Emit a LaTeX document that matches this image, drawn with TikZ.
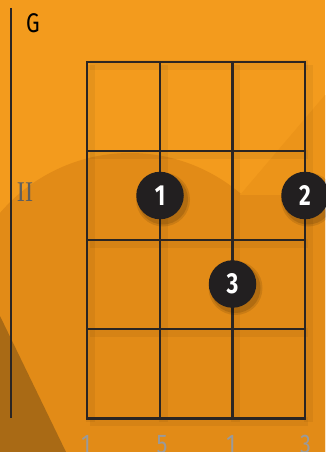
\documentclass[tikz,border=0pt]{standalone}
\usepackage{fontspec}
\setmainfont{Fira Sans}
\newfontfamily\numfont{Fira Sans}
\newfontfamily\serifnum{Liberation Serif}
\usetikzlibrary{calc}
\definecolor{bglight}{HTML}{F39B1D}
\definecolor{bgmid}{HTML}{EC9419}
\definecolor{bgdark}{HTML}{E28B17}
\definecolor{bgdeep}{HTML}{A96A15}
\definecolor{gridcol}{HTML}{2A2523}
\definecolor{dotcol}{HTML}{221F20}
\definecolor{lblgray}{HTML}{9A9A9A}
\definecolor{romgray}{HTML}{5E5E5E}
\tikzset{
  gridline/.style={draw=gridcol, line width=2.6pt, line cap=rect},
  gridshadow/.style={draw=black, line width=9pt, opacity=0.05},
  fingerdot/.style={circle, fill=dotcol, minimum size=47.5pt, inner sep=0pt,
     text=white, font=\numfont\bfseries\fontsize{29}{29}\selectfont},
  dotshadow/.style={circle, fill=black, inner sep=0pt},
  strlabel/.style={text=lblgray, font=\numfont\fontsize{27}{27}\selectfont, anchor=north, inner sep=0pt},
}
\begin{document}
\begin{tikzpicture}[x=1pt,y=-1pt]
\useasboundingbox (0,0) rectangle (325,452);
% background
\fill[bglight] (0,0) rectangle (325,452);
\begin{scope}
  \clip (0,0) -- (325,0) -- (325,95) -- (240,195) -- (240,452) -- (0,452) -- cycle;
  \fill[bgdark] (130,324) circle (171);
\end{scope}
\fill[bgmid] (325,95) -- (240,195) -- (240,452) -- (325,452) -- cycle;
\fill[bgdark] (240,195) -- (305,195) -- (325,210) -- (325,452) -- (240,452) -- cycle;
\fill[bgdark] (0,330) rectangle (325,452);
\fill[bgdeep] (0,316) -- (66,452) -- (0,452) -- cycle;
% vertical line
\coordinate (vtop) at (11,8);
\coordinate (vbot) at (11,418);
\draw[draw=gridcol, line width=1.3pt] (vtop) -- (vbot);
% grid coordinates
\foreach \i/\x in {0/87,1/160,2/232.5,3/305}{
  \coordinate (t\i) at (\x,62);
  \coordinate (b\i) at (\x,418.5);
}
\foreach \j/\y in {0/62,1/151,2/240,3/329,4/418.5}{
  \coordinate (l\j) at (87,\y);
  \coordinate (r\j) at (305,\y);
}
% grid shadow
\foreach \i in {0,1,2,3}{ \draw[gridshadow] ($(t\i)+(3,3)$) -- ($(b\i)+(3,3)$); }
\foreach \j in {0,1,2,3,4}{ \draw[gridshadow] ($(l\j)+(3,3)$) -- ($(r\j)+(3,3)$); }
% grid
\foreach \i in {0,1,2,3}{ \draw[gridline] (t\i) -- (b\i); }
\foreach \j in {0,1,2,3,4}{ \draw[gridline] (l\j) -- (r\j); }
% texts
\node[inner sep=0pt, anchor=north, font=\numfont\fontsize{27}{27}\selectfont] (chord) at (33,13) {\scalebox{0.8}[1]{G}};
\node[inner sep=0pt, anchor=north, text=romgray, font=\serifnum\fontsize{28.5}{28.5}\selectfont] (fret) at (25,182.5) {\scalebox{0.85}[1]{II}};
% dots with shadows
\foreach \n/\x/\y in {d1/160/195.5,d2/305/195.5,d3/232.5/284}{
  \fill[black, opacity=0.10] (\x+3,\y+4) circle (27);
  \fill[black, opacity=0.12] (\x+3,\y+4) circle (25);
}
\node[fingerdot] (d1) at (160,195.5) {\scalebox{0.78}[1]{1}};
\node[fingerdot] (d2) at (305,195.5) {\scalebox{0.78}[1]{2}};
\node[fingerdot] (d3) at (232.5,284) {\scalebox{0.78}[1]{3}};
% string labels
\node[strlabel] (s1) at (86,435) {\scalebox{0.8}[1]{1}};
\node[strlabel] (s2) at (162,435) {\scalebox{0.8}[1]{5}};
\node[strlabel] (s3) at (231,435) {\scalebox{0.8}[1]{1}};
\node[strlabel] (s4) at (305.5,435) {\scalebox{0.8}[1]{3}};
\end{tikzpicture}
\end{document}
